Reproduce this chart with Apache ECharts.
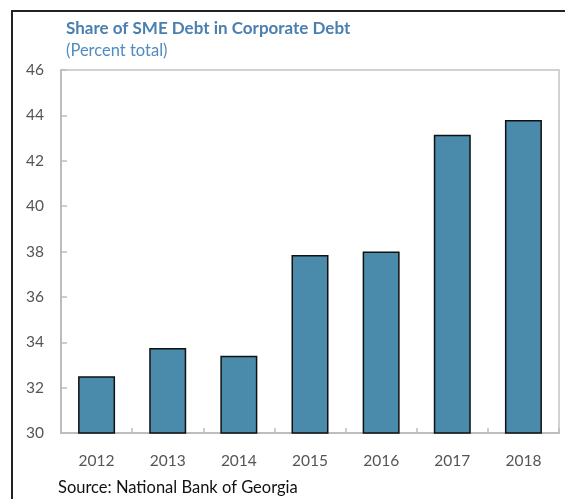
<!DOCTYPE html>
<html>
<head>
<meta charset="utf-8">
<script src="https://cdn.jsdelivr.net/npm/echarts@6/dist/echarts.min.js"></script>
<style>
  html, body { margin: 0; padding: 0; background: #fff; }
  #chart { width: 565px; height: 499px; }
</style>
</head>
<body>
<div id="chart"></div>
<script>
// SME share of corporate debt, by year
const years = ['2012', '2013', '2014', '2015', '2016', '2017', '2018'];
const smeShare = [32.5, 33.75, 33.4, 37.85, 38.0, 43.15, 43.8];
const yMin = 30, yMax = 46, yStep = 2;

const chart = echarts.init(document.getElementById('chart'), null, { renderer: 'canvas' });
const font = 'Lato, "Open Sans", sans-serif';

chart.setOption({
  animation: false,
  backgroundColor: '#ffffff',
  textStyle: { fontFamily: font },
  graphic: [
    {
      type: 'rect',
      shape: { x: 12, y: 11, width: 600, height: 520 },
      style: { fill: 'none', stroke: '#222', lineWidth: 2 },
      silent: true
    },
    {
      type: 'text', left: 66, top: 20,
      style: { text: 'Share of SME Debt in Corporate Debt', fill: '#4a7fae', font: 'bold 17px ' + font }
    },
    {
      type: 'text', left: 66, top: 42,
      style: { text: '(Percent total)', fill: '#4f8cc0', font: '16.5px ' + font }
    },
    {
      type: 'text', left: 58, top: 479,
      style: { text: 'Source: National Bank of Georgia', fill: '#111', font: '16.5px ' + font }
    }
  ],
  grid: {
    left: 61, right: 6, top: 70, bottom: 66,
    show: true, borderColor: '#c4c4c4', borderWidth: 1.5, backgroundColor: 'transparent'
  },
  xAxis: {
    type: 'category',
    data: years,
    axisLine: { lineStyle: { color: '#bdbdbd', width: 2 } },
    axisTick: { show: true, inside: true, length: 5, alignWithLabel: false, lineStyle: { color: '#bdbdbd', width: 1.5 } },
    axisLabel: { color: '#555', fontSize: 15.5, margin: 20, fontFamily: font }
  },
  yAxis: {
    type: 'value',
    min: yMin, max: yMax, interval: yStep,
    axisLine: { show: true, lineStyle: { color: '#bdbdbd', width: 2 } },
    axisTick: { show: true, inside: true, length: 6, lineStyle: { color: '#bdbdbd', width: 1.5 } },
    axisLabel: { color: '#555', fontSize: 15.5, margin: 17, fontFamily: font },
    splitLine: { show: false }
  },
  series: [{
    type: 'bar',
    data: smeShare,
    barWidth: '52%',
    itemStyle: { color: '#4a8aab', borderColor: '#111', borderWidth: 1.5 }
  }]
});
</script>
</body>
</html>
